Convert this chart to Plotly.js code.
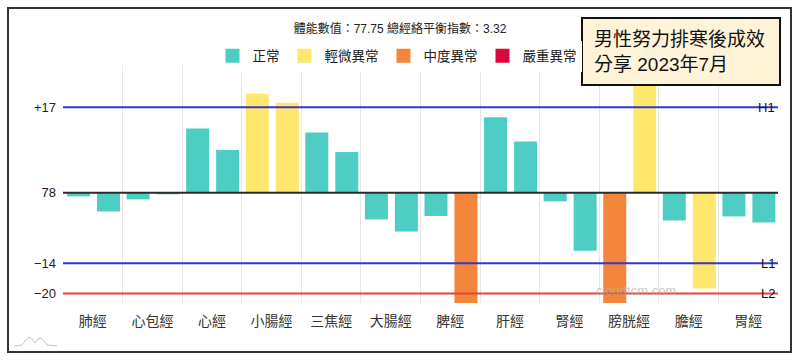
<!DOCTYPE html>
<html>
<head>
<meta charset="utf-8">
<script src="https://cdn.plot.ly/plotly-3.0.1.min.js"></script>
<style>
html,body{margin:0;padding:0;background:#ffffff;}
#chart{width:800px;height:362px;}
</style>
</head>
<body>
<div id="chart"></div>
<script>
// ---- data ----
const categories = ['肺經','心包經','心經','小腸經','三焦經','大腸經','脾經','肝經','腎經','膀胱經','膽經','胃經'];
const leftValues  = [-0.7, -1.3, 12.8, 19.7, 12.0, -5.3, -4.6, 15.0, -1.7, -25.0, -5.5, -4.7];
const rightValues = [-3.7, -0.3,  8.5, 17.9,  8.1, -7.7, -25.0, 10.2, -11.5, 28.0, -19.0, -5.9];
const leftStatus  = ['正常','正常','正常','輕微異常','正常','正常','正常','正常','正常','中度異常','正常','正常'];
const rightStatus = ['正常','正常','正常','輕微異常','正常','正常','中度異常','正常','正常','輕微異常','輕微異常','正常'];
const levels = ['正常','輕微異常','中度異常','嚴重異常'];
const tickVals = [17, 0, -14, -20];
const tickText = ['+17','78','−14','−20'];
const refValues = [17, -14, -20];
const refLabels = ['H1','L1','L2'];
const titleText = '體能數值：77.75 總經絡平衡指數：3.32';
const noteLines = ['男性努力排寒後成效','分享 2023年7月'];
const watermark = 'cloudtcm.com';

// ---- styles ----
const levelColors = {'正常':'#4ECDC4','輕微異常':'#FFE66D','中度異常':'#F3863A','嚴重異常':'#D8083A'};
const refColors = ['#3535D0','#3535D0','#E8403C'];
const FONT = 'Liberation Sans, Noto Sans CJK TC, sans-serif';
const PL=63, PR=778, PT=65, PB=303;
const px2x = p => (p-PL)/(PR-PL);
const px2y = p => (PB-p)/(PB-PT);

const barW = 0.386;
const traces = [
  {type:'bar', x:categories, y:leftValues, width:barW, offset:-0.433,
   marker:{color:leftStatus.map(s=>levelColors[s])}, showlegend:false, hoverinfo:'x+y'},
  {type:'bar', x:categories, y:rightValues, width:barW, offset:0.07,
   marker:{color:rightStatus.map(s=>levelColors[s])}, showlegend:false, hoverinfo:'x+y'}
];
levels.forEach(l=>{
  traces.push({type:'scatter', mode:'markers', x:[categories[0]], y:[null], name:l,
    marker:{color:levelColors[l], symbol:'square', size:14, line:{width:0}}, showlegend:true});
});

const shapes = [];
// baseline
shapes.push({type:'line', xref:'paper', x0:0, x1:1, yref:'y', y0:0, y1:0, line:{color:'#2a2a2a', width:2}, layer:'above'});
refValues.forEach((v,i)=>{
  shapes.push({type:'line', xref:'paper', x0:0, x1:1, yref:'y', y0:v, y1:v, line:{color:refColors[i], width:2}, layer:'above'});
});
// note box
shapes.push({type:'rect', xref:'paper', yref:'paper', x0:px2x(582), x1:px2x(780), y0:px2y(85), y1:px2y(18),
  fillcolor:'#FFF4D8', line:{color:'#111', width:2}, layer:'above'});
// outer frame
shapes.push({type:'rect', xref:'paper', yref:'paper', x0:px2x(8), x1:px2x(791), y0:px2y(352), y1:px2y(8),
  fillcolor:'rgba(0,0,0,0)', line:{color:'#333', width:2}, layer:'above'});
// small logo at bottom-left
const logoPts = [[14,346],[22,345],[26,340],[29,337],[32,339],[35,343],[38,339],[41,338],[44,341],[47,345],[57,346]];
shapes.push({type:'path', xref:'paper', yref:'paper',
  path: logoPts.map((p,i)=>(i?'L':'M')+px2x(p[0]).toFixed(4)+','+px2y(p[1]).toFixed(4)).join(' '),
  line:{color:'#c4c4c4', width:1}, layer:'above'});

const annotations = [];
refLabels.forEach((t,i)=>{
  annotations.push({xref:'paper', x:px2x(777), xanchor:'right', yref:'y', y:refValues[i], yanchor:'middle',
    text:t, showarrow:false, font:{family:FONT, size:13, color:'#111'}});
});
annotations.push({xref:'paper', yref:'paper', x:px2x(592), xanchor:'left', y:px2y(52), yanchor:'middle',
  text:noteLines.join('<br>'), align:'left', showarrow:false, font:{family:FONT, size:19, color:'#111'}});
annotations.push({xref:'paper', yref:'paper', x:px2x(636), xanchor:'center', y:px2y(290), yanchor:'middle',
  text:watermark, showarrow:false, font:{family:FONT, size:13, color:'rgba(190,170,170,0.7)'}});

const layout = {
  width:800, height:362,
  margin:{l:PL, r:800-PR, t:PT, b:362-PB, pad:0, autoexpand:false},
  paper_bgcolor:'#ffffff', plot_bgcolor:'#ffffff',
  font:{family:FONT, color:'#333'},
  barmode:'overlay',
  title:{text:titleText, xref:'container', x:0.5, xanchor:'center', yref:'container', y:1-29/362, yanchor:'middle',
    font:{family:FONT, size:12, color:'#222'}},
  showlegend:true,
  legend:{orientation:'h', xref:'container', x:397/800, xanchor:'center', yref:'container', y:1-56/362, yanchor:'middle',
    font:{family:FONT, size:13.5, color:'#222'}, itemclick:false, itemdoubleclick:false, tracegroupgap:0},
  xaxis:{type:'category', range:[-0.5, 11.5], tickson:'boundaries', showgrid:true, gridcolor:'#e6e6e6', gridwidth:1,
    ticks:'', showline:false, zeroline:false, fixedrange:true, ticklabelstandoff:8,
    tickfont:{family:FONT, size:14, color:'#333'}},
  yaxis:{range:[-21.9, 25.4], tickvals:tickVals, ticktext:tickText, showgrid:false, zeroline:false, showline:false,
    ticks:'', fixedrange:true, ticklabelstandoff:6, tickfont:{family:FONT, size:13, color:'#222'}},
  shapes:shapes,
  annotations:annotations
};

Plotly.newPlot('chart', traces, layout, {displayModeBar:false, staticPlot:true});
</script>
</body>
</html>
